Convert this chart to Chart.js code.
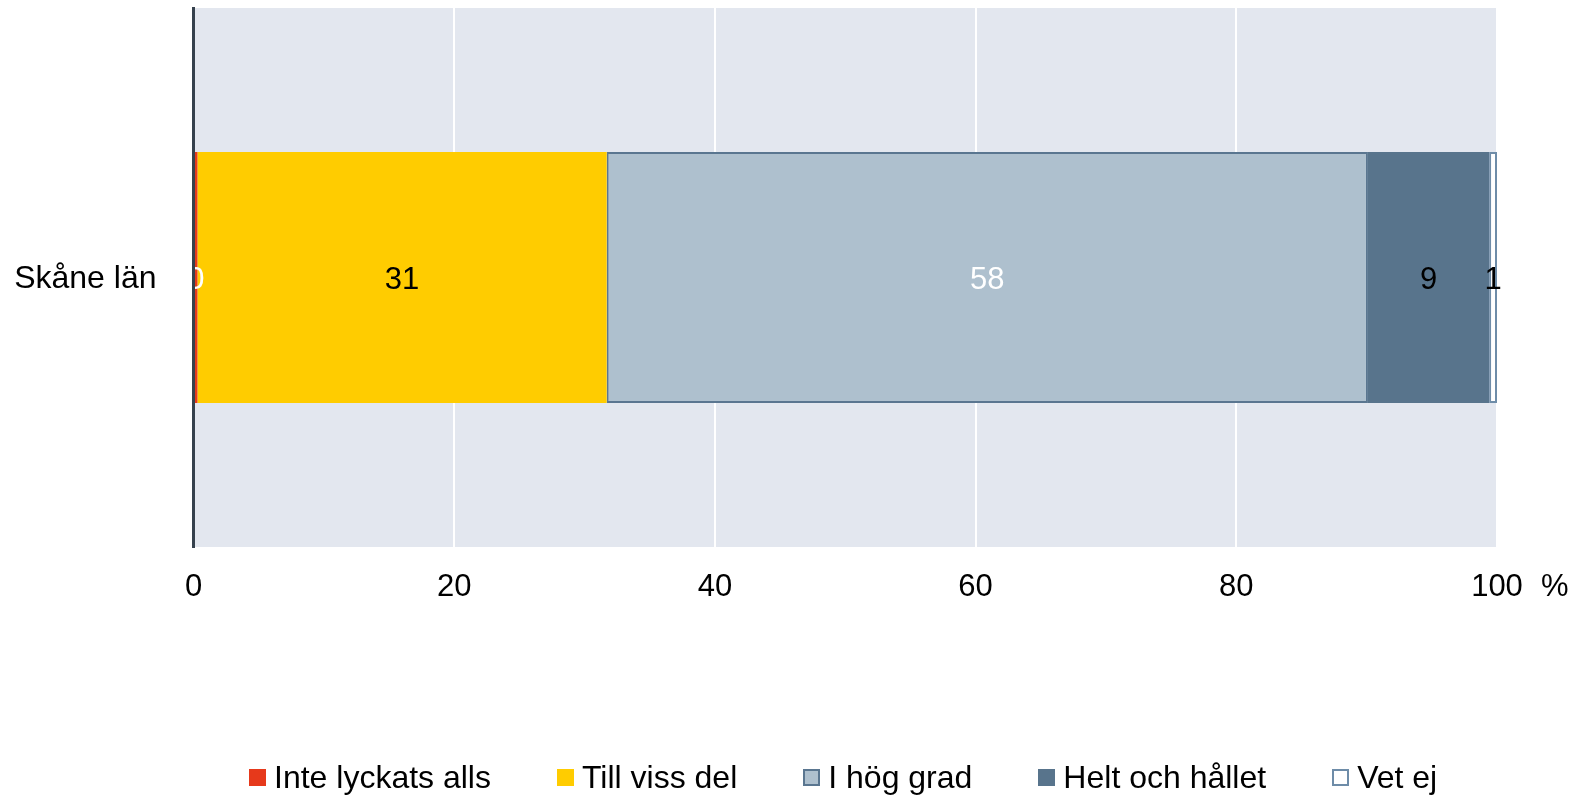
<!DOCTYPE html>
<html lang="sv">
<head>
<meta charset="utf-8">
<title>Skåne län</title>
<script src="https://cdn.jsdelivr.net/npm/chart.js@4.4.1/dist/chart.umd.min.js"></script>
<style>
    html, body { margin: 0; padding: 0; background: #fff; }
    #wrap { position: relative; width: 1583px; height: 795px; }
    #chart { position: absolute; left: 0; top: 0; }
    #legend {
        position: absolute; left: 249px; top: 761px;
        display: flex; align-items: center; white-space: nowrap;
        font-family: "Liberation Sans", Arial, sans-serif; font-size: 32px; line-height: 32px; color: #000;
    }
    .item { display: flex; align-items: center; margin-right: 66px; }
    .box { width: 17px; height: 17px; box-sizing: border-box; margin-right: 8px; }
</style>
</head>
<body>
<div id="wrap">
    <canvas id="chart" width="1583" height="795"></canvas>
    <div id="legend"></div>
</div>
<script>
// data
const kategorier = ["Skåne län"];
const serier = ["Inte lyckats alls", "Till viss del", "I hög grad", "Helt och hållet", "Vet ej"];
const andelar = [0.3, 31.4, 58.4, 9.3, 0.6];
const xTicks = [0, 20, 40, 60, 80, 100];

// styles
const fyllning = ["#e6391b", "#ffcc00", "#aec0ce", "#58748c", "#ffffff"];
const kantfarg = ["#e6391b", "#ffcc00", "#5a7690", "#58748c", "#6e8ca8"];
const kantbredd = [0, 0, 2, 0, 2];
const etikettfarg = ["#ffffff", "#000000", "#ffffff", "#000000", "#000000"];

const FONT = "'Liberation Sans', Arial, sans-serif";
Chart.defaults.font.family = FONT;
Chart.defaults.color = "#000";

const plotBakgrund = {
    id: "plotBakgrund",
    beforeDraw(chart) {
        const a = chart.chartArea;
        const ctx = chart.ctx;
        ctx.save();
        ctx.fillStyle = "#e3e7ef";
        ctx.fillRect(a.left, a.top, a.right - a.left, a.bottom - a.top);
        ctx.restore();
    }
};

const stapelEtiketter = {
    id: "stapelEtiketter",
    afterDatasetsDraw(chart) {
        const ctx = chart.ctx;
        ctx.save();
        ctx.font = "31px " + FONT;
        ctx.textAlign = "center";
        ctx.textBaseline = "middle";
        chart.data.datasets.forEach((ds, i) => {
            const meta = chart.getDatasetMeta(i);
            meta.data.forEach((el, j) => {
                const p = el.getCenterPoint();
                ctx.fillStyle = etikettfarg[i];
                ctx.fillText(String(Math.round(ds.data[j])), p.x, p.y + 3);
            });
        });
        ctx.restore();
    }
};

const procentTecken = {
    id: "procentTecken",
    afterDraw(chart) {
        const x = chart.scales.x;
        const ctx = chart.ctx;
        ctx.save();
        ctx.font = "31px " + FONT;
        ctx.fillStyle = "#000";
        ctx.textAlign = "left";
        ctx.textBaseline = "top";
        ctx.fillText("%", x.getPixelForValue(100) + 44, x.top + 25);
        ctx.restore();
    }
};

function byggLegend() {
    const $legend = document.getElementById("legend");
    serier.forEach((s, i) => {
        const item = document.createElement("div");
        item.className = "item";
        if (i === serier.length - 1) item.style.marginRight = "0";
        const box = document.createElement("span");
        box.className = "box";
        box.style.background = fyllning[i];
        if (kantbredd[i] > 0) box.style.border = "2px solid " + kantfarg[i];
        const txt = document.createElement("span");
        txt.textContent = s;
        item.appendChild(box);
        item.appendChild(txt);
        $legend.appendChild(item);
    });
}

const chart = new Chart(document.getElementById("chart"), {
    type: "bar",
    data: {
        labels: kategorier,
        datasets: serier.map((s, i) => ({
            label: s,
            data: [andelar[i]],
            backgroundColor: fyllning[i],
            borderColor: kantfarg[i],
            borderWidth: kantbredd[i],
            borderSkipped: false,
            barPercentage: 0.466,
            categoryPercentage: 1
        }))
    },
    options: {
        indexAxis: "y",
        responsive: false,
        animation: false,
        layout: { padding: { top: 8, right: 86, left: 0, bottom: 0 } },
        plugins: { legend: { display: false }, tooltip: { enabled: false } },
        scales: {
            x: {
                stacked: true,
                min: 0,
                max: 100,
                afterBuildTicks: s => { s.ticks = xTicks.map(v => ({ value: v })); },
                afterFit: s => { s.height = 248; },
                grid: { color: "#ffffff", lineWidth: 2, drawTicks: false },
                border: { display: false },
                ticks: { font: { size: 31 }, color: "#000", padding: 22, maxRotation: 0 }
            },
            y: {
                stacked: true,
                afterFit: s => { s.width = 193.5; s.paddingTop = 0; s.paddingBottom = 0; },
                grid: { display: false, drawTicks: false },
                border: { display: true, color: "#36414d", width: 3, z: 1 },
                ticks: { font: { size: 32 }, color: "#000", padding: 37, labelOffset: 2 }
            }
        }
    },
    plugins: [plotBakgrund, stapelEtiketter, procentTecken]
});

byggLegend();
</script>
</body>
</html>
